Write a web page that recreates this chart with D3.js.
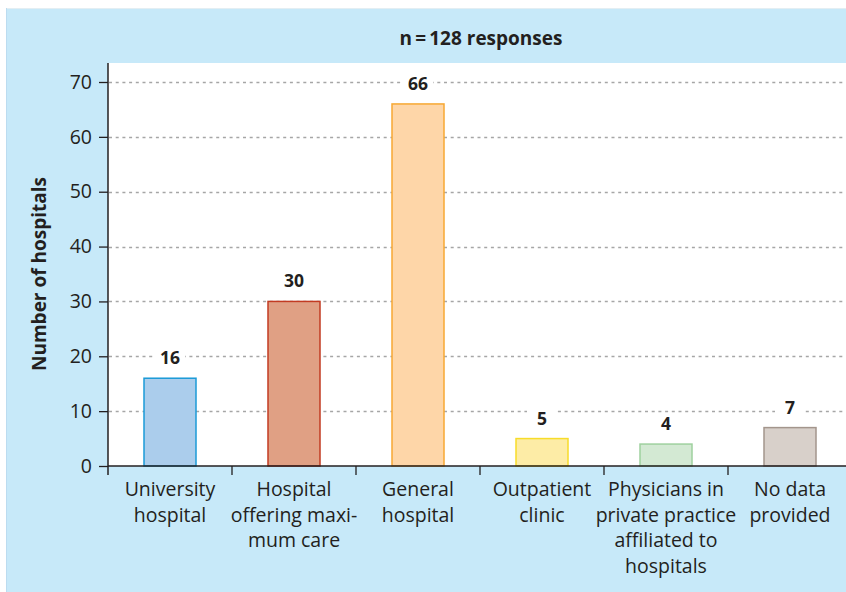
<!DOCTYPE html>
<html><head><meta charset="utf-8">
<script src="https://cdn.jsdelivr.net/npm/d3@7"></script>
<style>
html,body{margin:0;padding:0;background:#fff;}
svg{display:block;font-family:"Open Sans",sans-serif;}
</style></head>
<body><svg id="c" width="846" height="592"></svg>
<script>
const categories = [
  ["University", "hospital"],
  ["Hospital", "offering maxi-", "mum care"],
  ["General", "hospital"],
  ["Outpatient", "clinic"],
  ["Physicians in", "private practice", "affiliated to", "hospitals"],
  ["No data", "provided"]
];
const values = [16, 30, 66, 5, 4, 7];
const fills = ["#abcdec", "#e0a084", "#fed6a8", "#fdeca6", "#d3e9d3", "#d8d0ca"];
const strokes = ["#1b9ad7", "#c23b22", "#f7a833", "#f7dc2a", "#9fd19f", "#a3958c"];
const yTicks = [0, 10, 20, 30, 40, 50, 60, 70];
const title = "n\u2009=\u2009128 responses";
const yTitle = "Number of hospitals";

const svg = d3.select("#c");
// background panel
svg.append("rect").attr("x", 6).attr("y", 8).attr("width", 846).attr("height", 590).attr("fill", "#c7e9f9");
svg.append("line").attr("x1", 6).attr("x2", 846).attr("y1", 8.5).attr("y2", 8.5).attr("stroke", "#e3eef3").attr("stroke-width", 1);
svg.append("line").attr("x1", 6.5).attr("x2", 6.5).attr("y1", 8).attr("y2", 592).attr("stroke", "#bcdcf0").attr("stroke-width", 1);

const pL = 108, pT = 63, pB = 466, pR = 852;
svg.append("rect").attr("x", pL).attr("y", pT).attr("width", pR - pL).attr("height", pB - pT).attr("fill", "#fff");

const x = d3.scaleBand().domain(d3.range(categories.length)).range([pL, pR]).paddingInner(0).paddingOuter(0);
const y = d3.scaleLinear().domain([0, 70]).range([pB, 82]);

// grid
svg.append("g").selectAll("line").data(yTicks.filter(d => d > 0)).join("line")
  .attr("x1", pL + 1).attr("x2", pR)
  .attr("y1", d => Math.round(y(d)) + 0.5).attr("y2", d => Math.round(y(d)) + 0.5)
  .attr("stroke", "#a6a6a6").attr("stroke-width", 1.3).attr("stroke-dasharray", "3,3.7");

// bars
const bw = 53;
svg.append("g").selectAll("rect").data(values).join("rect")
  .attr("x", (d, i) => x(i) + x.bandwidth() / 2 - bw / 2 + 0.5)
  .attr("y", d => y(d))
  .attr("width", bw - 1)
  .attr("height", d => pB - y(d))
  .attr("fill", (d, i) => fills[i])
  .attr("stroke", (d, i) => strokes[i])
  .attr("stroke-width", 1.5);

// value labels with white knockout
const vl = svg.append("g");
values.forEach((v, i) => {
  const cx = x(i) + x.bandwidth() / 2;
  const by = y(v) - 14;
  vl.append("rect").attr("x", cx - 15).attr("y", by - 16).attr("width", 30).attr("height", 20).attr("fill", "#fff");
  vl.append("text").attr("x", cx).attr("y", by).attr("text-anchor", "middle")
    .attr("font-size", 17.5).attr("font-weight", "bold").attr("fill", "#231f20").text(v);
});

// y axis
const ya = svg.append("g").attr("transform", `translate(${pL},0)`)
  .call(d3.axisLeft(y).tickValues(yTicks).tickSize(9).tickPadding(7).tickFormat(d3.format("d")));
ya.select(".domain").remove();
ya.selectAll(".tick line").attr("stroke", "#231f20").attr("stroke-width", 1.3);
ya.selectAll(".tick text").attr("font-size", 19.5).attr("fill", "#231f20").attr("font-family", "Open Sans");
svg.append("line").attr("x1", pL).attr("x2", pL).attr("y1", pT).attr("y2", pB + 9)
  .attr("stroke", "#231f20").attr("stroke-width", 1.5);

// x axis
svg.append("line").attr("x1", pL).attr("x2", pR).attr("y1", pB).attr("y2", pB)
  .attr("stroke", "#231f20").attr("stroke-width", 1.5);
svg.append("g").selectAll("line").data(d3.range(1, categories.length)).join("line")
  .attr("x1", i => x(i)).attr("x2", i => x(i)).attr("y1", pB).attr("y2", pB + 9)
  .attr("stroke", "#231f20").attr("stroke-width", 1.3);

const xl = svg.append("g");
categories.forEach((lines, i) => {
  const t = xl.append("text").attr("x", x(i) + x.bandwidth() / 2).attr("y", 496)
    .attr("text-anchor", "middle").attr("font-size", 19.5).attr("fill", "#231f20");
  lines.forEach((s, j) => t.append("tspan").attr("x", x(i) + x.bandwidth() / 2).attr("dy", j === 0 ? 0 : 25.5).text(s));
});

// titles
svg.append("text").attr("x", 481).attr("y", 45).attr("text-anchor", "middle")
  .attr("font-size", 19).attr("font-weight", "bold").attr("fill", "#231f20").text(title);
svg.append("text").attr("transform", "translate(46,274) rotate(-90)").attr("text-anchor", "middle")
  .attr("font-size", 19).attr("font-weight", "bold").attr("fill", "#231f20").text(yTitle);
</script></body></html>
